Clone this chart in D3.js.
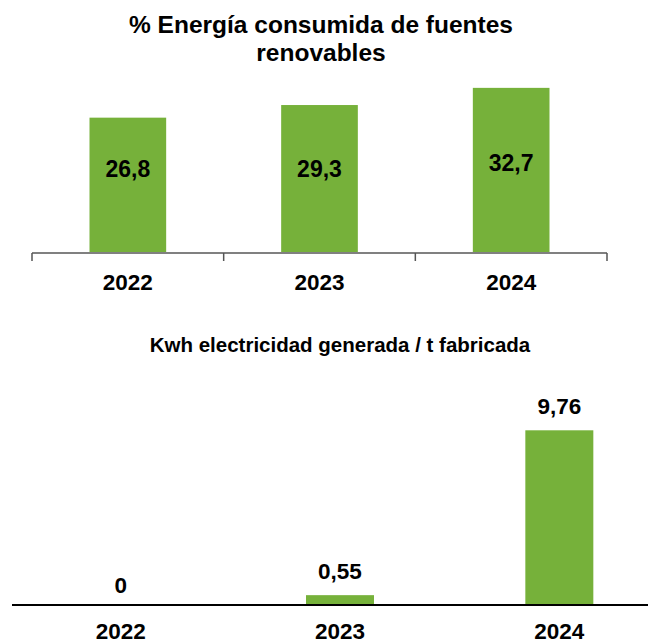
<!DOCTYPE html>
<html>
<head>
<meta charset="utf-8">
<script src="https://cdn.jsdelivr.net/npm/d3@7"></script>
<style>
  body { margin: 0; background: #fff; }
  svg text { font-family: "Liberation Sans", Arial, sans-serif; font-weight: bold; fill: #000; }
</style>
</head>
<body>
<svg id="chart"></svg>
<script>
var width = 648;
var height = 644;

var years = ["2022", "2023", "2024"];
var renovables = [26.8, 29.3, 32.7];
var renovablesLabels = ["26,8", "29,3", "32,7"];
var kwhPorTonelada = [0, 0.55, 9.76];
var kwhLabels = ["0", "0,55", "9,76"];

var green = "#76b13a";

var svg = d3.select("#chart")
    .attr("width", width)
    .attr("height", height);

// ---- chart 1: % energia renovable ----
var top1 = svg.append("g");

top1.append("text")
    .attr("x", 321).attr("y", 33)
    .attr("text-anchor", "middle")
    .style("font-size", "24.5px")
    .text("% Energía consumida de fuentes");
top1.append("text")
    .attr("x", 321).attr("y", 61)
    .attr("text-anchor", "middle")
    .style("font-size", "24.5px")
    .text("renovables");

var x1 = d3.scaleBand().domain(years).range([32, 607]).paddingInner(0.6).paddingOuter(0.3);
var y1 = d3.scaleLinear().domain([0, 40]).range([253, 51]);

top1.selectAll(".bar1")
    .data(renovables)
  .enter().append("rect")
    .attr("class", "bar1")
    .attr("x", function(d, i) { return x1(years[i]); })
    .attr("y", function(d) { return y1(d); })
    .attr("width", x1.bandwidth())
    .attr("height", function(d) { return y1(0) - y1(d); })
    .attr("fill", green);

var axis1 = top1.append("g")
    .attr("transform", "translate(0," + y1(0) + ")");
axis1.append("line")
    .attr("x1", 32).attr("x2", 607)
    .attr("stroke", "#808080").attr("stroke-width", 2);
var edges = [32].concat(years.map(function(d) { return x1(d) + x1.bandwidth() / 2 + x1.step() / 2; }));
axis1.selectAll(".tick1")
    .data(edges)
  .enter().append("line")
    .attr("x1", function(d) { return d; })
    .attr("x2", function(d) { return d; })
    .attr("y1", 0).attr("y2", 8)
    .attr("stroke", "#555").attr("stroke-width", 1.5);
axis1.selectAll(".cat1")
    .data(years)
  .enter().append("text")
    .attr("x", function(d) { return x1(d) + x1.bandwidth() / 2; })
    .attr("y", 37)
    .attr("text-anchor", "middle")
    .style("font-size", "22.5px")
    .text(function(d) { return d; });

top1.selectAll(".val1")
    .data(renovables)
  .enter().append("text")
    .attr("x", function(d, i) { return x1(years[i]) + x1.bandwidth() / 2; })
    .attr("y", function(d) { return y1(d > 30 ? 16.2 : 15.1); })
    .attr("text-anchor", "middle")
    .style("font-size", "23px")
    .text(function(d, i) { return renovablesLabels[i]; });

// ---- chart 2: kwh generada / t fabricada ----
var top2 = svg.append("g");

top2.append("text")
    .attr("x", 340).attr("y", 352)
    .attr("text-anchor", "middle")
    .style("font-size", "20.5px")
    .text("Kwh electricidad generada / t fabricada");

var x2 = d3.scaleBand().domain(years).range([11, 669]).paddingInner(0.69).paddingOuter(0.345);
var y2 = d3.scaleLinear().domain([0, 10]).range([605, 426]);

top2.selectAll(".bar2")
    .data(kwhPorTonelada)
  .enter().append("rect")
    .attr("class", "bar2")
    .attr("x", function(d, i) { return x2(years[i]); })
    .attr("y", function(d) { return y2(d); })
    .attr("width", x2.bandwidth())
    .attr("height", function(d) { return y2(0) - y2(d); })
    .attr("fill", green);

top2.append("line")
    .attr("x1", 12).attr("x2", width)
    .attr("y1", y2(0)).attr("y2", y2(0))
    .attr("stroke", "#000").attr("stroke-width", 2);

top2.selectAll(".val2")
    .data(kwhPorTonelada)
  .enter().append("text")
    .attr("x", function(d, i) { return x2(years[i]) + x2.bandwidth() / 2; })
    .attr("y", function(d) { return y2(d) - (d === 0 ? 12 : 16.5); })
    .attr("text-anchor", "middle")
    .style("font-size", "22.5px")
    .text(function(d, i) { return kwhLabels[i]; });

top2.selectAll(".cat2")
    .data(years)
  .enter().append("text")
    .attr("x", function(d) { return x2(d) + x2.bandwidth() / 2; })
    .attr("y", y2(0) + 34)
    .attr("text-anchor", "middle")
    .style("font-size", "22.5px")
    .text(function(d) { return d; });
</script>
</body>
</html>
